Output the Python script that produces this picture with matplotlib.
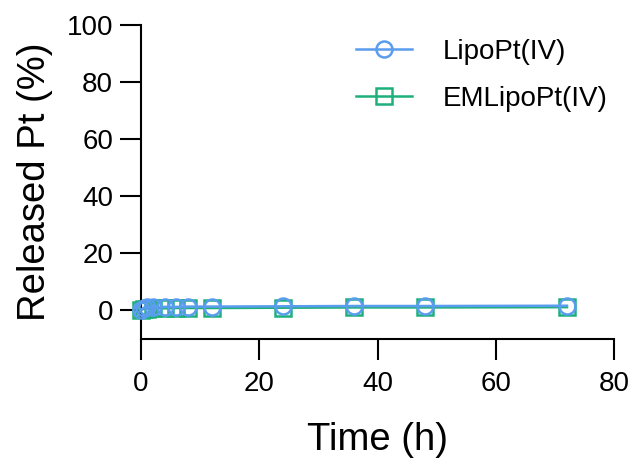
import matplotlib.pyplot as plt
import numpy as np

plt.rcParams['font.family'] = ['Liberation Sans', 'DejaVu Sans']

# Data
time_h = [0, 0.5, 1, 2, 4, 6, 8, 12, 24, 36, 48, 72]
lipo = [0.2, 0.9, 1.0, 1.1, 1.2, 1.2, 1.3, 1.3, 1.4, 1.5, 1.5, 1.6]
emlipo = [0.1, 0.5, 0.6, 0.7, 0.7, 0.8, 0.8, 0.8, 0.9, 1.0, 1.0, 1.1]

blue = '#5A9CEE'
green = '#1DB07A'

fig = plt.figure(figsize=(6.32, 4.61), dpi=100)
ax = fig.add_axes([0.223, 0.265, 0.749, 0.681])

ax.plot(time_h, lipo, color=blue, lw=1.8, marker='o', ms=11.5, mfc='none',
        mew=1.8, clip_on=False, label='LipoPt(IV)', zorder=3)
ax.plot(time_h, emlipo, color=green, lw=1.8, marker='s', ms=11.5, mfc='none',
        mew=1.8, clip_on=False, label='EMLipoPt(IV)', zorder=2)

ax.set_xlim(0, 80)
ax.set_ylim(-10, 100)
ax.set_xticks([0, 20, 40, 60, 80])
ax.set_yticks([0, 20, 40, 60, 80, 100])
ax.tick_params(labelsize=20, width=1.5, length=15)
ax.tick_params(axis='x', pad=8)
ax.tick_params(axis='y', pad=5)
ax.set_xlabel('Time (h)', fontsize=27.5, labelpad=18)
ax.set_ylabel('Released Pt (%)', fontsize=27.5, labelpad=10)

for s in ['top', 'right']:
    ax.spines[s].set_visible(False)
for s in ['left', 'bottom']:
    ax.spines[s].set_linewidth(1.5)

ax.legend(loc='upper right', frameon=False, fontsize=20, handlelength=2.05,
          borderaxespad=0.0, labelspacing=0.75, handletextpad=1.1,
          bbox_to_anchor=(1.01, 0.99))

plt.savefig('out.png', dpi=100)
